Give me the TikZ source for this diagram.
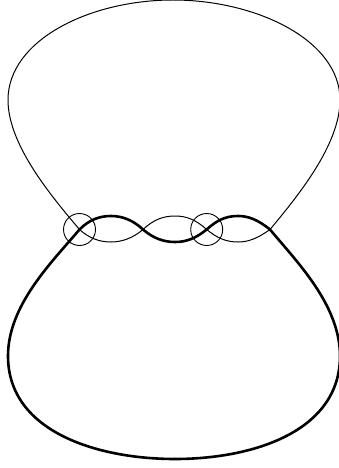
\documentclass[tikz,border=0pt]{standalone}
\tikzset{
  thinstrand/.style={line width=1pt,line join=round},
  thickstrand/.style={line width=2.6pt,line join=round},
  ringnode/.style={circle,draw,line width=0.9pt,minimum size=32pt,inner sep=0pt}
}
\begin{document}
\begin{tikzpicture}[x=1pt,y=-1pt]
\useasboundingbox (0,0) rectangle (338,468);
\coordinate (c1) at (79.5,229.5);
\coordinate (c2) at (143,229.5);
\coordinate (c3) at (206.7,229.5);
\coordinate (c4) at (270,229.5);
\node[ringnode] (r1) at (c1) {};
\node[ringnode] (r2) at (c3) {};
% thin strand
\draw[thinstrand] (c1) .. controls (52,197) and (8,145) .. (8,100)
  .. controls (8,40) and (90,0) .. (173,0)
  .. controls (256,0) and (340,40) .. (340,100)
  .. controls (340,145) and (297,197) .. (c4)
  .. controls (258,238) and (249,242) .. (238,242)
  .. controls (226,242) and (217,238) .. (c3)
  .. controls (196,220) and (187,216) .. (175,216)
  .. controls (163,216) and (153,220) .. (c2)
  .. controls (133,238) and (122,242) .. (111,242)
  .. controls (99,242) and (89,238) .. (c1);
% thick strand
\draw[thickstrand] (c1) .. controls (52,262) and (8,305) .. (8,356)
  .. controls (8,432) and (98,459) .. (175,459)
  .. controls (252,459) and (340,432) .. (340,356)
  .. controls (340,305) and (297,262) .. (c4)
  .. controls (258,220) and (249,216) .. (238,216)
  .. controls (226,216) and (217,220) .. (c3)
  .. controls (196,238) and (187,242) .. (175,242)
  .. controls (163,242) and (153,238) .. (c2)
  .. controls (133,220) and (122,216) .. (111,216)
  .. controls (99,216) and (89,220) .. (c1) -- cycle;
\end{tikzpicture}
\end{document}
